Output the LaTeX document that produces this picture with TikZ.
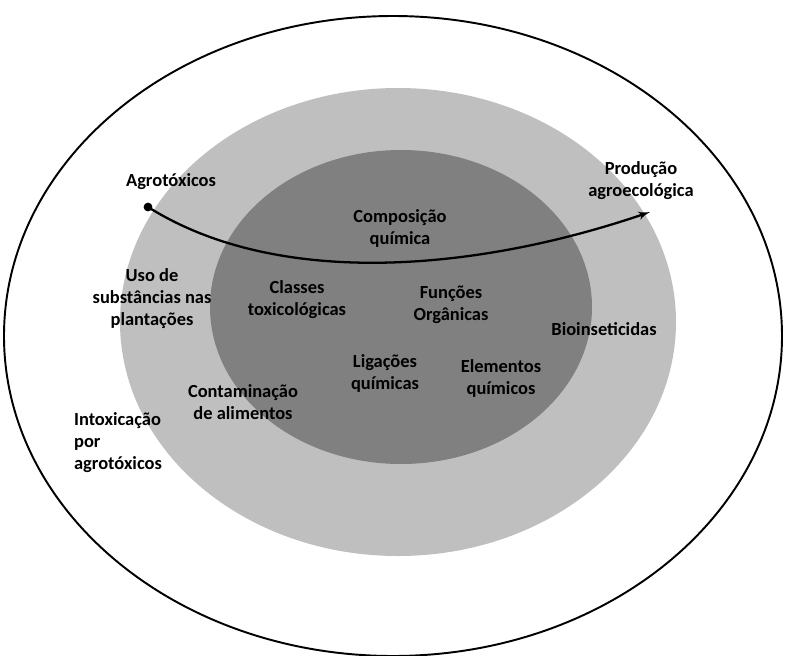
\documentclass[tikz,border=0pt]{standalone}
\usepackage{fontspec}
\setmainfont{Carlito}
\usetikzlibrary{arrows, positioning}
\definecolor{ringgray}{RGB}{191,191,191}
\definecolor{coregray}{RGB}{128,128,128}
\tikzstyle{lbl}=[font=\bfseries\fontsize{10.5}{12.5}\selectfont, align=center, inner sep=0pt]
\tikzstyle{dot}=[circle, fill=black, inner sep=0pt, minimum size=5pt]

\begin{document}
\begin{tikzpicture}[>= latex', x=0.02cm, y=-0.02cm]
\useasboundingbox (0,0) rectangle (785,656);
\draw[line width=1.1pt, fill=white] (393,336) ellipse (389 and 320);
\fill[ringgray] (398,322) ellipse (278 and 234);
\fill[coregray] (401,307) ellipse (191 and 157);
\node[lbl] at (171,182) (agro) {Agrotóxicos};
\node[lbl] at (641,181) (prod) {Produção\\agroecológica};
\node[lbl] at (400,228) (comp) {Composição\\química};
\node[lbl] at (152,299) (uso) {Uso de\\substâncias nas\\plantações};
\node[lbl] at (297,300) (classes) {Classes\\toxicológicas};
\node[lbl] at (451,305) (funcoes) {Funções\\Orgânicas};
\node[lbl] at (604,329) (bio) {Bioinseticidas};
\node[lbl] at (385,373) (ligacoes) {Ligações\\químicas};
\node[lbl] at (501,378) (elementos) {Elementos\\químicos};
\node[lbl] at (243,402) (contam) {Contaminação\\de alimentos};
\node[lbl, align=left] at (118,443) (intox) {Intoxicação\\por\\agrotóxicos};
\node[dot] at (148,207) (agro_pt) {};
\coordinate (prod_pt) at (650,212);
\draw[->, line width=1.3pt] (agro_pt.center) .. controls (280,290) and (480,270) .. (prod_pt);
\end{tikzpicture}
\end{document}
